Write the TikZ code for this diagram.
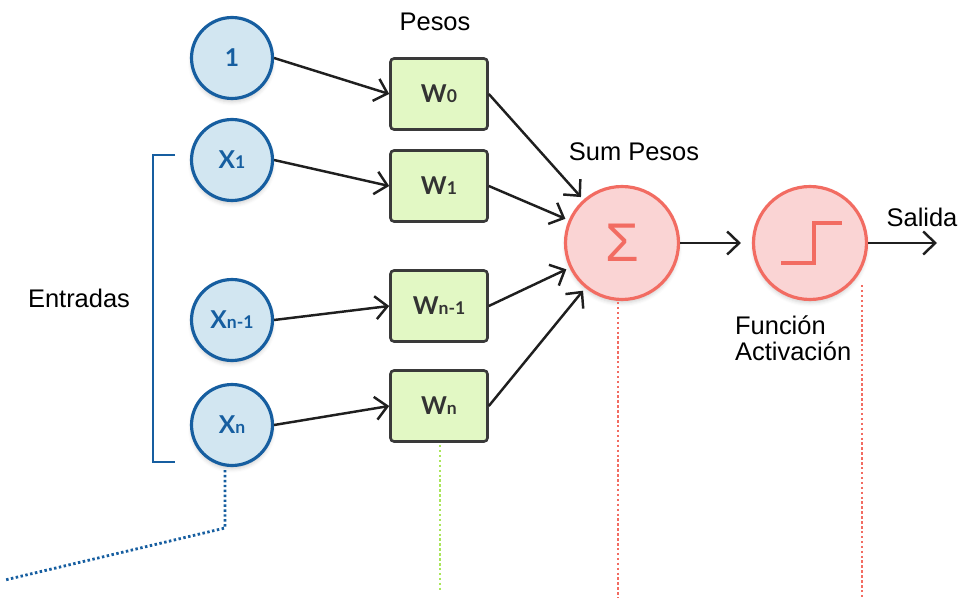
\documentclass[tikz,border=0pt]{standalone}
\usepackage{fontspec}
\setmainfont{Liberation Sans}
\newfontfamily\latofont{Lato}
\usetikzlibrary{arrows.meta,shadows.blur}

\definecolor{inblue}{RGB}{22,94,160}
\definecolor{infill}{RGB}{210,230,241}
\definecolor{boxgray}{RGB}{58,58,58}
\definecolor{boxfill}{RGB}{226,248,196}
\definecolor{sumred}{RGB}{242,108,98}
\definecolor{sumfill}{RGB}{250,212,212}
\definecolor{guidegreen}{RGB}{170,230,90}

\newcommand{\subidx}[1]{{\fontsize{10}{10}\selectfont #1}}

\tikzset{
  entrada/.style={circle, draw=inblue, fill=infill, line width=1.8pt,
    minimum size=1.62cm, inner sep=0pt, text=inblue,
    font=\latofont\bfseries\fontsize{14}{14}\selectfont,
    blur shadow={shadow xshift=0pt, shadow yshift=-2pt, shadow opacity=18}},
  peso/.style={rectangle, rounded corners=2pt, draw=boxgray, fill=boxfill,
    line width=1.5pt, minimum width=1.94cm, minimum height=1.42cm,
    inner sep=0pt, text=black!80, font=\latofont\bfseries\fontsize{14}{14}\selectfont},
  suma/.style={circle, draw=sumred, fill=sumfill, line width=1.8pt,
    minimum size=2.26cm, inner sep=0pt, text=sumred,
    blur shadow={shadow xshift=0pt, shadow yshift=-2pt, shadow opacity=18}},
  flecha/.style={-{Straight Barb[length=2.4mm,width=4.6mm]}, line width=1.4pt, black!88},
  guia/.style={dash pattern=on 1.4pt off 1.4pt, line width=1.6pt},
  etiqueta/.style={font=\fontsize{14.5}{14.5}\selectfont, inner sep=1pt}
}

\begin{document}
\begin{tikzpicture}[x=0.02cm, y=-0.02cm]
  \useasboundingbox (0,0) rectangle (961,598);

  % entradas
  \node[entrada] (in0) at (232,58) {1};
  \node[entrada] (x1) at (232,160) {X\subidx{1}};
  \node[entrada] (xn1) at (232,320) {X\subidx{n-1}};
  \node[entrada] (xn) at (232,425) {X\subidx{n}};

  % pesos
  \node[peso] (w0) at (439,94) {W\subidx{0}};
  \node[peso] (w1) at (439,186) {W\subidx{1}};
  \node[peso] (wn1) at (439,306) {W\subidx{n-1}};
  \node[peso] (wn) at (439,406) {W\subidx{n}};

  % suma y activacion
  \node[suma, font=\fontsize{31}{31}\selectfont] (sum) at (622,243) {Σ};
  \node[suma] (act) at (810,243) {};
  \draw[sumred, line width=1.8pt] ([shift={(-29,20)}]act.center) -- ++(33,0) -- ++(0,-40) -- ++(28,0);
  \coordinate (out) at (937,243);

  % conexiones
  \draw[flecha] (in0.east) -- (w0.west);
  \draw[flecha] (x1.east) -- (w1.west);
  \draw[flecha] (xn1.east) -- (wn1.west);
  \draw[flecha] (xn.east) -- (wn.west);
  \draw[flecha, shorten >=2pt] (w0.east) -- (sum);
  \draw[flecha, shorten >=2pt] (w1.east) -- (sum);
  \draw[flecha, shorten >=2pt] (wn1.east) -- (sum);
  \draw[flecha, shorten >=2pt] (wn.east) -- (sum);
  \draw[flecha, shorten >=0.22cm] (sum) -- (act);
  \draw[flecha] (act.east) -- (out);

  % corchete de entradas
  \draw[inblue, line width=1.6pt] (175,155) -- (153,155) -- (153,462) -- (175,462);

  % textos
  \node[etiqueta] (lblpesos) at (435,22) {Pesos};
  \node[etiqueta] (lblsum) at (634,152) {Sum Pesos};
  \node[etiqueta] (lblsalida) at (922,217) {Salida};
  \node[etiqueta] (lblentradas) at (79,298) {Entradas};
  \node[etiqueta, anchor=north west, align=left] (lblfuncion) at (733,314) {Función\\Activación};

  % guias punteadas
  \draw[guia, inblue] (225,470) -- (225,528) -- (5,580);
  \draw[guia, guidegreen] (440,445) -- (440,590);
  \draw[guia, sumred] (618,302) -- (618,598);
  \draw[guia, sumred] (862,285) -- (862,598);
\end{tikzpicture}
\end{document}
